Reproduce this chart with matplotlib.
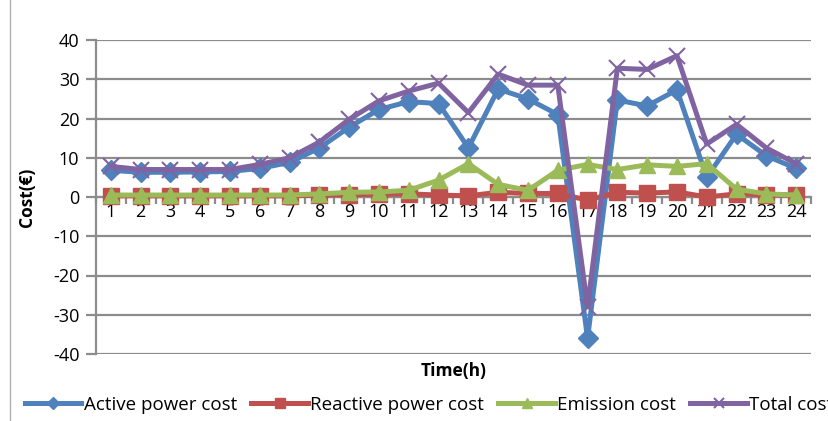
import matplotlib
matplotlib.use("Agg")
from matplotlib import pyplot as plt
import numpy as np

hours = list(range(1, 25))

active_cost = [6.8, 6.3, 6.3, 6.4, 6.5, 7.3, 8.8, 12.5, 17.8, 22.3, 24.3, 23.8,
               12.5, 27.5, 25.0, 21.0, -36.0, 24.7, 23.2, 27.3, 5.0, 16.0, 10.5, 7.3]
reactive_cost = [0.3, 0.3, 0.3, 0.3, 0.3, 0.3, 0.3, 0.5, 0.6, 0.7, 0.8, 0.5,
                 0.3, 1.2, 0.9, 0.9, -0.8, 1.2, 1.0, 1.3, 0.0, 0.8, 0.6, 0.5]
emission_cost = [0.5, 0.5, 0.5, 0.5, 0.5, 0.5, 0.5, 0.8, 1.2, 1.3, 1.7, 4.3,
                 8.5, 3.2, 1.7, 6.8, 8.3, 7.0, 8.2, 7.8, 8.5, 2.0, 0.8, 0.5]
total_cost = [7.8, 7.0, 7.0, 7.0, 7.0, 8.3, 10.0, 14.0, 19.8, 24.5, 27.0, 29.0,
              21.5, 31.3, 28.5, 28.5, -28.0, 32.8, 32.5, 36.0, 13.5, 18.5, 12.5, 8.5]

plt.rcParams['font.family'] = ['Open Sans', 'DejaVu Sans']
plt.rcParams['axes.unicode_minus'] = False

fig = plt.figure(figsize=(8.29, 4.21), dpi=100)
ax = fig.add_axes([96/829, 1 - 354/421, (811 - 96)/829, (354 - 40)/421])

series = [
    (active_cost, "Active power cost", "#4F81BD", "D", 10),
    (reactive_cost, "Reactive power cost", "#C0504D", "s", 11),
    (emission_cost, "Emission cost", "#9BBB59", "^", 12),
    (total_cost, "Total cost", "#8064A2", "x", 12),
]
for i, (vals, name, col, mk, ms) in enumerate(series):
    ax.plot(hours, vals, color=col, lw=3.6, marker=mk, ms=ms, mew=1.5 if mk == "x" else 1,
            mec=col, mfc=col, label=name, zorder=3 + i, clip_on=False)

ax.set_xlim(0.5, 24.5)
ax.set_ylim(-40, 40)
ax.set_yticks(np.arange(-40, 41, 10))
ax.grid(axis="y", color="#8c8c8c", lw=1.6)
ax.set_axisbelow(True)

# category axis crosses at zero, tick marks between hours
ax.spines['bottom'].set_position(('data', 0))
for s in ['top', 'right']:
    ax.spines[s].set_visible(False)
for s in ['left', 'bottom']:
    ax.spines[s].set_color("#8c8c8c")
    ax.spines[s].set_linewidth(1.6)
ax.set_xticks(np.arange(0.5, 25, 1))
ax.set_xticklabels([])
ax.set_xticks(hours, minor=True)
ax.set_xticklabels([str(h) for h in hours], minor=True, fontsize=13)
ax.tick_params(axis="x", which="major", direction="out", length=5, width=1.6, color="#8c8c8c")
ax.tick_params(axis="x", which="minor", length=0, pad=4)
ax.tick_params(axis="y", direction="out", length=7, width=1.6, color="#8c8c8c", labelsize=13, pad=5)

ax.set_ylabel("Cost(€)", fontsize=12.5, fontweight="bold", labelpad=12)
fig.text(454/829, 1 - 371/421, "Time(h)", fontsize=12.5, fontweight="bold", ha="center", va="center")

# legend runs past the right edge of the chart
leg = fig.legend(loc="center left", bbox_to_anchor=(25/829, 1 - 405/421), ncol=4, frameon=False,
                 fontsize=13.5, handlelength=3.0, handletextpad=0.15, columnspacing=0.75,
                 markerscale=0.65, borderaxespad=0, borderpad=0)

# chart border on the left
fig.add_artist(plt.Line2D([10/829, 10/829], [0, 1], color="#b0b0b0", lw=1, transform=fig.transFigure))

plt.savefig("out.png", dpi=100)
